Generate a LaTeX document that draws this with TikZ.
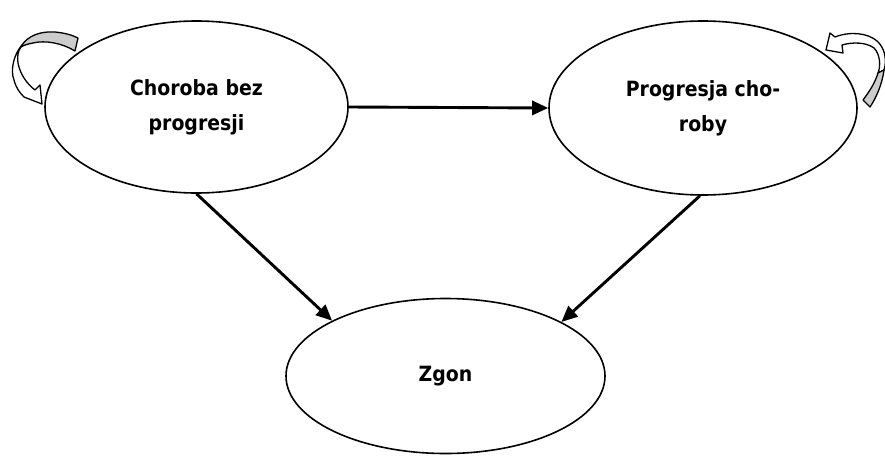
\documentclass[tikz,border=0pt]{standalone}
\usepackage{fontspec}
\newfontfamily\lblfont{DejaVuSansCondensed-Bold.ttf}
\usetikzlibrary{arrows.meta,shapes.geometric}
\begin{document}
\begin{tikzpicture}[x=1pt,y=-1pt,
  state/.style={draw, line width=1.6pt, ellipse, inner sep=0pt, align=center,
    font=\lblfont\fontsize{21}{35}\selectfont},
  conn/.style={line width=2.9pt, -{Triangle[length=16pt,width=14pt]}},
  loopfront/.style={draw, line width=1.3pt, fill=white, line join=round},
  loopback/.style={draw, line width=1.3pt, fill=gray!40, line join=round}]
\useasboundingbox[fill=white] (0,0) rectangle (885,455);
\node[state, minimum width=303pt, minimum height=172pt] (L) at (196.5,107) {Choroba bez\\progresji};
\node[state, minimum width=308pt, minimum height=174pt] (R) at (703,108) {Progresja cho-\\roby};
\node[state, minimum width=319pt, minimum height=155pt] (Z) at (445.5,376) {Zgon};
\draw[conn] (L.east) -- (R.west);
\draw[conn] (L.-90) -- (Z.154.8);
\draw[conn] (R.-92) -- (Z.25.2);
% left self loop
\draw[loopfront] (22,45) .. controls (14,54) and (10,70) .. (14,80)
  .. controls (16,88) and (20,93) .. (24,97) -- (42,104) -- (40,85) -- (35,90)
  .. controls (27,84) and (20,74) .. (18,63) .. controls (17,56) and (18,51) .. (21,47) -- cycle;
\draw[loopback] (22,45) .. controls (28,36) and (40,31) .. (55,32)
  .. controls (65,33) and (72,35) .. (78,38) -- (75,51)
  .. controls (62,43) and (45,40) .. (33,43) .. controls (28,44) and (24,45) .. (21,47) -- cycle;
% right self loop
\draw[loopfront] (826,50) -- (843,53) -- (842,45)
  .. controls (852,42) and (866,42) .. (874,48)
  .. controls (880,54) and (881,66) .. (878,73) -- (884,70)
  .. controls (887,60) and (885,48) .. (877,41)
  .. controls (868,33) and (850,31) .. (835,37) -- (830,33) -- cycle;
\draw[loopback] (878,73) -- (884,70) .. controls (882,85) and (876,98) .. (870,107)
  -- (863,100) .. controls (869,92) and (875,83) .. (878,73) -- cycle;
\end{tikzpicture}
\end{document}
